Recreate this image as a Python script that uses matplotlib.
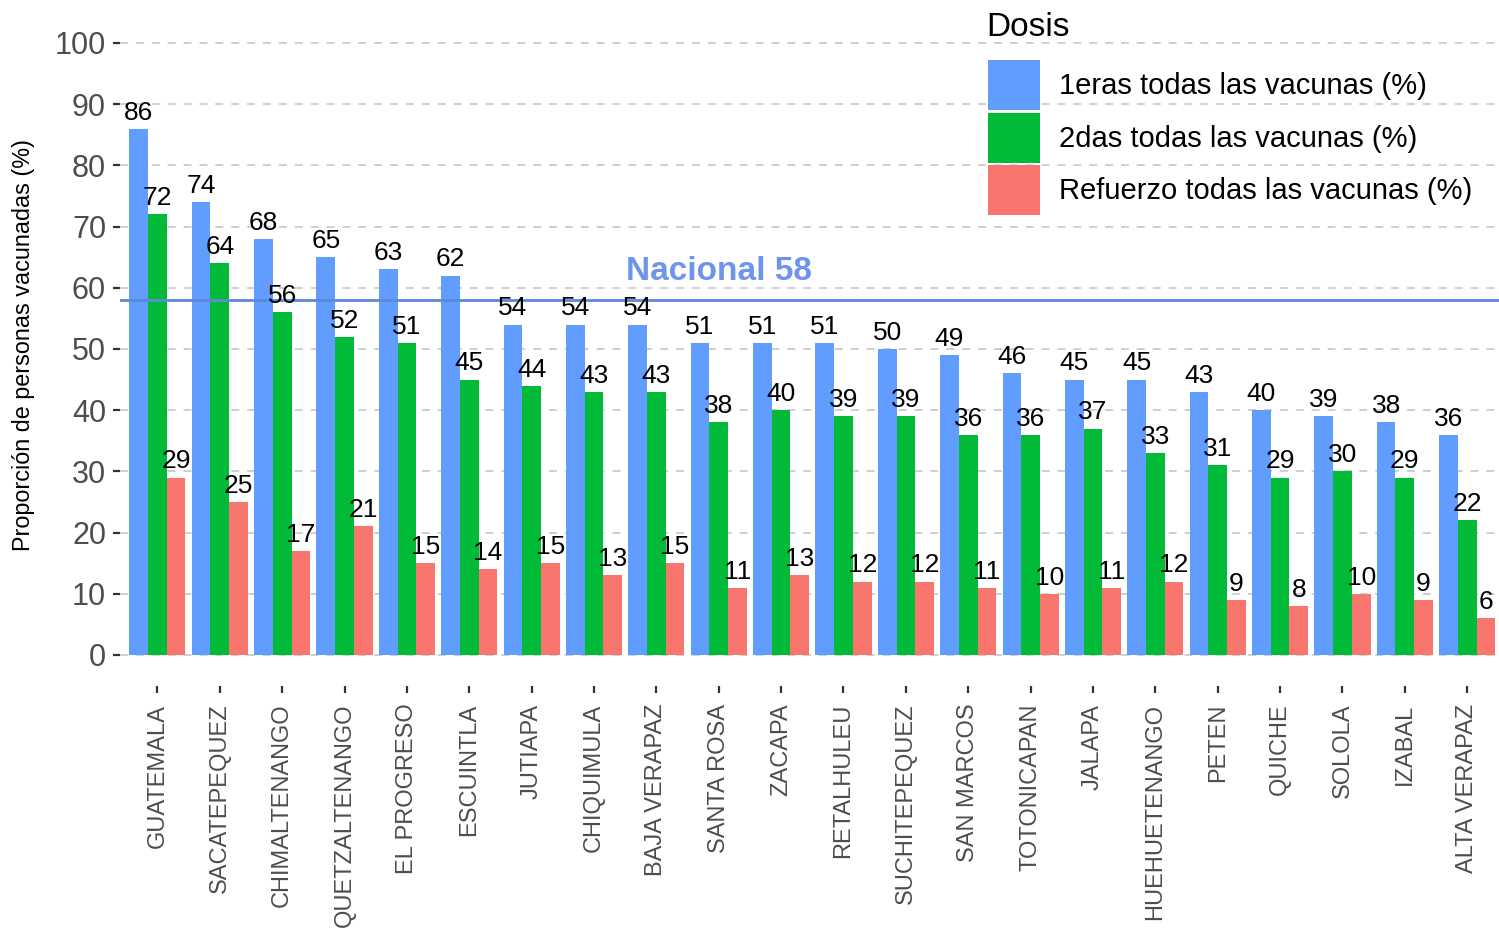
import matplotlib
matplotlib.use("Agg")
import matplotlib.pyplot as plt
from matplotlib.patches import Patch
import numpy as np

plt.rcParams['font.family'] = ['Liberation Sans', 'DejaVu Sans']

departamentos = ["GUATEMALA", "SACATEPEQUEZ", "CHIMALTENANGO", "QUETZALTENANGO",
                 "EL PROGRESO", "ESCUINTLA", "JUTIAPA", "CHIQUIMULA", "BAJA VERAPAZ",
                 "SANTA ROSA", "ZACAPA", "RETALHULEU", "SUCHITEPEQUEZ", "SAN MARCOS",
                 "TOTONICAPAN", "JALAPA", "HUEHUETENANGO", "PETEN", "QUICHE", "SOLOLA",
                 "IZABAL", "ALTA VERAPAZ"]
primeras = [86, 74, 68, 65, 63, 62, 54, 54, 54, 51, 51, 51, 50, 49, 46, 45, 45, 43, 40, 39, 38, 36]
segundas = [72, 64, 56, 52, 51, 45, 44, 43, 43, 38, 40, 39, 39, 36, 36, 37, 33, 31, 29, 30, 29, 22]
refuerzo = [29, 25, 17, 21, 15, 14, 15, 13, 15, 11, 13, 12, 12, 11, 10, 11, 12, 9, 8, 10, 9, 6]
series_names = ["1eras todas las vacunas (%)", "2das todas las vacunas (%)", "Refuerzo todas las vacunas (%)"]
series_colors = ["#619CFF", "#00BA38", "#F8766D"]
nacional = 58

W, H = 1499, 933
fig = plt.figure(figsize=(W / 100, H / 100), dpi=100)
left_px, right_px, top_px, bot_px = 120, 1499, 12.4, 685.6
ax = fig.add_axes([left_px / W, 1 - bot_px / H, (right_px - left_px) / W, (bot_px - top_px) / H])

x = np.arange(len(departamentos))
bw = 0.3
for k, (vals, col) in enumerate(zip([primeras, segundas, refuerzo], series_colors)):
    pos = x + (k - 1) * bw
    ax.bar(pos, vals, width=bw, color=col, zorder=2)
    for p, v in zip(pos, vals):
        ax.annotate(f"{v:.0f}", (p, v), xytext=(0, 3), textcoords='offset points',
                    ha='center', va='bottom', fontsize=19, color='black', zorder=4)

ax.axhline(nacional, color='#5B8BD6', lw=2, zorder=3)
ax.text(9, nacional + 3.27, f"Nacional {nacional}", ha='center', va='baseline',
        fontsize=24, fontweight='bold', color='#6E94EC', zorder=5)

ax.set_xlim(-0.6, 21.51)
ax.set_ylim(-5, 105)
ax.set_yticks(np.arange(0, 101, 10))
ax.set_xticks(x)
ax.set_xticklabels(departamentos, rotation=90)
for s in ax.spines.values():
    s.set_visible(False)
ax.grid(axis='y', color='#CCCCCC', linestyle=(0, (4.4, 4.4)), lw=1.3, zorder=0)
ax.grid(axis='x', visible=False)
ax.tick_params(axis='y', length=5, width=1.6, color='#333333', labelcolor='#4D4D4D',
               labelsize=22, pad=5)
ax.tick_params(axis='x', length=5, width=1.6, color='#333333', labelcolor='#4D4D4D',
               labelsize=17, pad=8)

fig.text(24 / W, 1 - 345 / H, "Proporción de personas vacunadas (%)", rotation=90,
         ha='center', va='center', fontsize=16.8, color='black')

fig.text(986 / W, 1 - 36 / H, "Dosis", ha='left', va='baseline', fontsize=24, color='black')
handles = [Patch(facecolor=c, edgecolor='none') for c in series_colors]
leg = fig.legend(handles, series_names, loc='upper left', bbox_to_anchor=(988 / W, 1 - 60 / H),
                 frameon=False, fontsize=21,
                 handlelength=1.78, handleheight=2.26, labelspacing=0.09,
                 handletextpad=0.66, borderpad=0, borderaxespad=0)

fig.savefig("out.png", dpi=100, facecolor='white')
